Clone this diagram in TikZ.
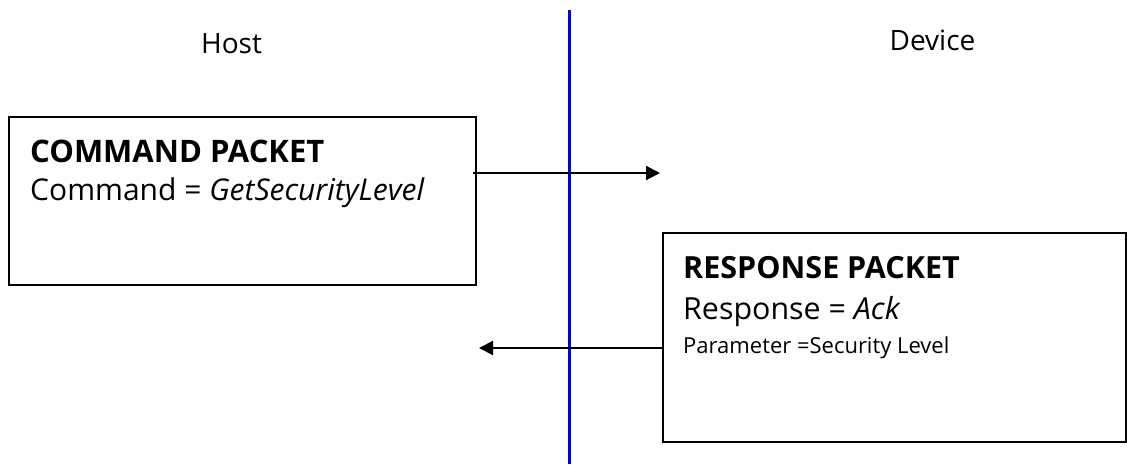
\documentclass[tikz,border=0pt]{standalone}
\usepackage{fontspec}
\setmainfont{Open Sans}
\usetikzlibrary{arrows.meta}
\begin{document}
\begin{tikzpicture}[x=1pt,y=-1pt,
  pbox/.style={draw=black,line width=1.6pt,fill=none},
  msg/.style={draw=black,line width=2pt,-{Triangle[length=14pt,width=14pt]}},
  lbl/.style={anchor=base west,inner sep=0pt},
  side/.style={anchor=base,inner sep=0pt,font=\fontsize{28}{34}\selectfont},
]
\useasboundingbox (0,0) rectangle (1127,464);
\draw[draw=blue!90!black,line width=3.5pt] (569.5,10) -- (569.5,464);
\node[side] (host) at (231.5,53) {Host};
\node[side] (dev) at (932.5,50) {Device};
\draw[pbox] (9,117) rectangle (476,285);
\node[lbl,font=\fontsize{31}{36}\selectfont\bfseries] (ct) at (30,162) {COMMAND PACKET};
\node[lbl,font=\fontsize{30}{36}\selectfont] (cc) at (30,200) {Command = \textit{GetSecurityLevel}};
\draw[pbox] (663,233) rectangle (1126,442);
\node[lbl,font=\fontsize{30.5}{36}\selectfont\bfseries] (rt) at (683,278) {RESPONSE PACKET};
\node[lbl,font=\fontsize{30.4}{36}\selectfont] (rr) at (683,319) {Response = \textit{Ack}};
\node[lbl,font=\fontsize{22}{26}\selectfont] (rp) at (683,353) {Parameter =Security Level};
\coordinate (c1) at (473,173);
\coordinate (c1e) at (660,173);
\coordinate (r1) at (663,348);
\coordinate (r1e) at (479,348);
\draw[msg] (c1) -- (c1e);
\draw[msg] (r1) -- (r1e);
\end{tikzpicture}
\end{document}
